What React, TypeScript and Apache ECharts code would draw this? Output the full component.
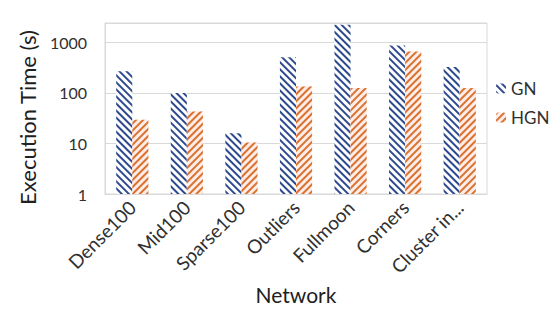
import React, { useEffect, useRef } from "react";
import * as echarts from "echarts";

const categories = ["Dense100", "Mid100", "Sparse100", "Outliers", "Fullmoon", "Corners", "Cluster in..."];
const gnValues = [268, 100, 16, 507, 2240, 867, 326];
const hgnValues = [29.6, 43, 10.5, 135, 125, 665, 125];
const yTicks = [1, 10, 100, 1000];

const FONT = "Lato, 'Open Sans', sans-serif";

export default function App() {
  const ref = useRef<HTMLDivElement>(null);
  useEffect(() => {
    if (!ref.current) return;
    const chart = echarts.init(ref.current, undefined, { renderer: "svg" });
    chart.setOption({
      animation: false,
      textStyle: { fontFamily: FONT },
      legend: {
        orient: "vertical",
        left: 491,
        top: 75,
        itemWidth: 10,
        itemHeight: 10,
        itemGap: 12,
        textStyle: { fontSize: 17, color: "#303030", fontFamily: FONT },
        data: ["GN", "HGN"],
      },
      grid: {
        left: 105,
        right: 63,
        top: 23,
        bottom: 125,
        show: true,
        borderColor: "#d9d9d9",
        borderWidth: 1,
      },
      xAxis: {
        type: "category",
        data: categories,
        name: "Network",
        nameLocation: "middle",
        nameGap: 86,
        nameTextStyle: { fontSize: 21, color: "#202020", fontFamily: FONT },
        axisLine: { lineStyle: { color: "#d9d9d9" } },
        axisTick: { show: false },
        axisLabel: { rotate: 45, fontSize: 19, color: "#303030", margin: 10, interval: 0 },
      },
      yAxis: {
        type: "log",
        logBase: 10,
        min: yTicks[0],
        max: 2427,
        name: "Execution Time (s)",
        nameLocation: "middle",
        nameGap: 64,
        nameTextStyle: { fontSize: 22, color: "#202020", fontFamily: FONT, padding: [0, 18, 0, 0] },
        axisLine: { show: true, lineStyle: { color: "#d9d9d9" } },
        axisTick: { show: false },
        splitLine: { lineStyle: { color: "#d9d9d9" } },
        axisLabel: {
          fontSize: 16,
          color: "#303030",
          margin: 18,
          showMaxLabel: false,
          formatter: (v: number) => (yTicks.some((t) => Math.abs(t - v) < 1e-6) ? String(Math.round(v)) : ""),
        },
      },
      series: [
        {
          name: "GN",
          type: "bar",
          data: gnValues,
          barGap: "0%",
          barCategoryGap: "41%",
          itemStyle: {
            color: "#ffffff",
            decal: {
              symbol: "rect",
              color: "#2E4A8E",
              dashArrayX: [1, 0],
              dashArrayY: [1.6, 2.6],
              rotation: Math.PI / 4,
              symbolSize: 1,
            },
          },
        },
        {
          name: "HGN",
          type: "bar",
          data: hgnValues,
          itemStyle: {
            color: "#FDECE8",
            decal: {
              symbol: "rect",
              color: "#D9722F",
              dashArrayX: [1, 0],
              dashArrayY: [1.6, 2.6],
              rotation: -Math.PI / 4,
              symbolSize: 1,
            },
          },
        },
      ],
    });
    return () => chart.dispose();
  }, []);
  return <div ref={ref} style={{ width: 550, height: 319, position: "absolute", left: 0, top: 0 }} />;
}
